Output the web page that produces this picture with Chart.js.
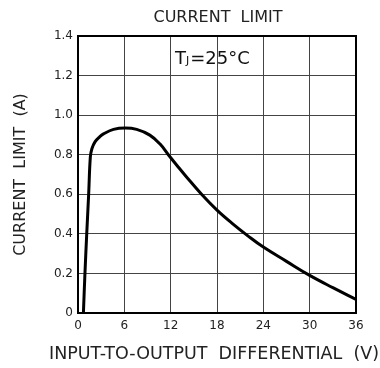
<!DOCTYPE html>
<html>
<head>
<meta charset="utf-8">
<script src="https://cdn.jsdelivr.net/npm/chart.js@4.4.0/dist/chart.umd.min.js"></script>
<style>
  html, body { margin: 0; padding: 0; background: #fff; }
  #wrap { width: 380px; height: 368px; }
</style>
</head>
<body>
<div id="wrap"><canvas id="chart"></canvas></div>
<script>
// valores
const voltage = [0.7, 0.9, 1.13, 1.38, 1.6, 1.8, 2.2, 2.8, 3.3, 4.6, 6.1, 7.6, 9.3, 10.6, 11.7, 13, 14, 16, 18, 20, 22, 24, 27, 30, 33, 36];
const current = [0, 0.2, 0.4, 0.6, 0.79, 0.83, 0.865, 0.89, 0.905, 0.928, 0.935, 0.928, 0.899, 0.855, 0.8, 0.737, 0.69, 0.6, 0.52, 0.452, 0.39, 0.333, 0.261, 0.19, 0.128, 0.069];
const xTicks = [0, 6, 12, 18, 24, 30, 36];
const yTicks = [0, 0.2, 0.4, 0.6, 0.8, 1.0, 1.2, 1.4];
const chartTitle = 'CURRENT  LIMIT';
const xTitle = 'INPUT-TO-OUTPUT  DIFFERENTIAL  (V)';
const yTitle = 'CURRENT  LIMIT  (A)';

const FONT = '"DejaVu Sans", sans-serif';

// marco, titulos y etiqueta Tj
const extras = {
    id: 'extras',
    beforeDatasetsDraw(chart) {
        const { ctx, chartArea: a } = chart;
        ctx.save();
        ctx.strokeStyle = '#000';
        ctx.lineWidth = 2;
        ctx.strokeRect(a.left, a.top, a.right - a.left, a.bottom - a.top);
        ctx.restore();
    },
    afterDraw(chart) {
        const { ctx, chartArea: a } = chart;
        const cx = (a.left + a.right) / 2;
        ctx.save();
        ctx.fillStyle = '#222';
        ctx.textAlign = 'center';
        ctx.textBaseline = 'middle';
        ctx.font = '16px ' + FONT;
        ctx.fillText(chartTitle, cx + 1, 18);
        ctx.font = '17.5px ' + FONT;
        ctx.fillText(xTitle, 214, 354);

        ctx.textAlign = 'left';
        ctx.textBaseline = 'alphabetic';
        ctx.fillStyle = '#111';
        let x = a.left + 97;
        const y = a.top + 28;
        ctx.font = '18px ' + FONT;
        ctx.fillText('T', x, y);
        x += ctx.measureText('T').width;
        ctx.font = '11px ' + FONT;
        ctx.fillText('J', x, y);
        x += ctx.measureText('J').width + 1;
        ctx.font = '18px ' + FONT;
        ctx.fillText('=25°C', x, y);
        ctx.restore();
    }
};

const ctx = document.getElementById('chart').getContext('2d');
new Chart(ctx, {
    type: 'scatter',
    data: {
        datasets: [{
            data: voltage.map((v, i) => ({ x: v, y: current[i] })),
            showLine: true,
            borderColor: '#000',
            borderWidth: 3,
            pointRadius: 0,
            tension: 0.4
        }]
    },
    options: {
        responsive: true,
        maintainAspectRatio: false,
        animation: false,
        layout: { padding: { top: 36, right: 24, left: 6, bottom: 4 } },
        plugins: {
            legend: { display: false },
            tooltip: { enabled: false },
            title: { display: false }
        },
        scales: {
            x: {
                type: 'linear',
                min: 0,
                max: 36,
                afterBuildTicks: (s) => { s.ticks = xTicks.map(v => ({ value: v })); },
                afterFit: (s) => { s.height = 51; },
                grid: { color: '#444', lineWidth: 1, drawTicks: false },
                border: { display: false },
                ticks: { color: '#222', padding: 6, font: { family: FONT, size: 12 } }
            },
            y: {
                min: 0,
                max: 1.4,
                afterBuildTicks: (s) => { s.ticks = yTicks.map(v => ({ value: v })); },
                afterFit: (s) => { s.width = 72; },
                grid: { color: '#444', lineWidth: 1, drawTicks: false },
                border: { display: false },
                ticks: {
                    color: '#222',
                    padding: 5,
                    font: { family: FONT, size: 12 },
                    callback: (v) => v === 0 ? '0' : v.toFixed(1)
                },
                title: {
                    display: true,
                    text: yTitle,
                    color: '#222',
                    font: { family: FONT, size: 16 },
                    padding: { top: 5, bottom: 0 }
                }
            }
        }
    },
    plugins: [extras]
});
</script>
</body>
</html>
